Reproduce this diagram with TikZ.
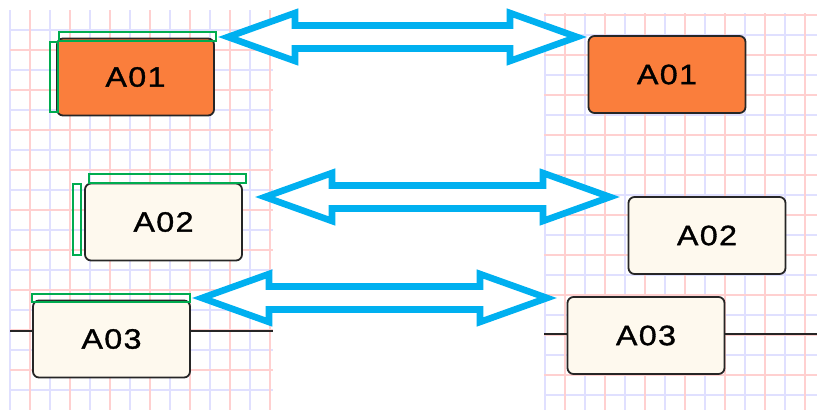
\documentclass[tikz,border=0pt]{standalone}
\usepackage{fontspec}
\usetikzlibrary{calc}
\newfontfamily\boxfont[FakeStretch=1.15,LetterSpace=5,FakeBold=1.2]{Liberation Sans}
\definecolor{gridred}{RGB}{255,208,208}
\definecolor{gridblue}{RGB}{224,224,255}
\definecolor{boxorange}{RGB}{250,126,60}
\definecolor{boxcream}{RGB}{254,249,238}
\definecolor{selgreen}{RGB}{0,172,80}
\definecolor{arrowblue}{RGB}{0,176,240}
\tikzset{
  gr/.style={gridred, line width=2.4pt},
  gb/.style={gridblue, line width=2.4pt},
  blk/.style={draw=black!85, line width=1.8pt, rounded corners=6pt,
    minimum width=157pt, minimum height=77pt, inner sep=0pt,
    font=\boxfont\fontsize{28}{32}\selectfont},
  orangebox/.style={blk, fill=boxorange},
  creambox/.style={blk, fill=boxcream},
  sel/.style={draw=selgreen, line width=2.2pt},
  wire/.style={draw=black!85, line width=1.4pt},
  barrow/.style={draw=arrowblue, line width=6.6pt, fill=white, line join=miter},
}
\newcommand{\blockarrow}[2]{%
  \path[barrow] let \p1=(#1), \p2=(#2) in
    (\x1,\y1) -- (\x1+67pt,\y1+24pt) -- (\x1+67pt,\y1+11.5pt)
    -- (\x2-67pt,\y1+11.5pt) -- (\x2-67pt,\y1+24pt) -- (\x2,\y1)
    -- (\x2-67pt,\y1-24pt) -- (\x2-67pt,\y1-11.5pt)
    -- (\x1+67pt,\y1-11.5pt) -- (\x1+67pt,\y1-24pt) -- cycle;}
\begin{document}
\begin{tikzpicture}[x=1pt,y=-1pt]
\useasboundingbox (0,0) rectangle (817,410);
% left grid
\foreach \x in {10,50,...,250} \draw[gb] (\x,10) -- (\x,410);
\foreach \y in {30,70,...,390} \draw[gb] (10,\y) -- (273,\y);
\foreach \x in {30,70,...,270} \draw[gr] (\x,10) -- (\x,410);
\foreach \y in {50,90,...,370} \draw[gr] (10,\y) -- (273,\y);
% right grid
\foreach \x in {545,585,...,785} \draw[gb] (\x,13) -- (\x,410);
\foreach \y in {35,75,...,395} \draw[gb] (544,\y) -- (817,\y);
\foreach \x in {565,605,...,805} \draw[gr] (\x,13) -- (\x,410);
\foreach \y in {15,55,...,375} \draw[gr] (544,\y) -- (817,\y);
% boxes
\node[orangebox] (L1) at (135.5,77) {A01};
\node[creambox]  (L2) at (163.5,222) {A02};
\node[creambox]  (L3) at (111.5,339) {A03};
\node[orangebox] (R1) at (667,74.5) {A01};
\node[creambox]  (R2) at (707,235.5) {A02};
\node[creambox]  (R3) at (646,335.5) {A03};
% wires
\coordinate (wl0) at (10,331);
\coordinate (wl1) at (273,331);
\coordinate (wr0) at (544,334);
\coordinate (wr1) at (817,334);
\draw[wire] (wl0) -- (wl0 -| L3.west);
\draw[wire] (wl1 -| L3.east) -- (wl1);
\draw[wire] (wr0) -- (wr0 -| R3.west);
\draw[wire] (wr1 -| R3.east) -- (wr1);
% selection marks
\draw[sel] (59,32) rectangle (216,41);
\draw[sel] (50,42) rectangle (58,112);
\draw[sel] (89,174) rectangle (246,183);
\draw[sel] (73,184) rectangle (81,255);
\draw[sel] (32,294) rectangle (190,302);
% arrows
\coordinate (a1l) at (228,37);
\coordinate (a1r) at (577,37);
\coordinate (a2l) at (265,197);
\coordinate (a2r) at (610,197);
\coordinate (a3l) at (202,298);
\coordinate (a3r) at (547,298);
\blockarrow{a1l}{a1r}
\blockarrow{a2l}{a2r}
\blockarrow{a3l}{a3r}
\end{tikzpicture}
\end{document}
